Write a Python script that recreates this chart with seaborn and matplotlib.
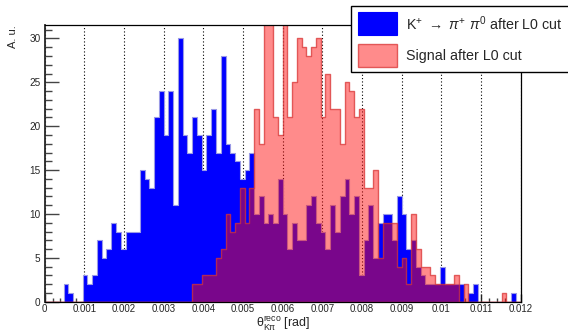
import numpy as np
import pandas as pd
import matplotlib
matplotlib.use("Agg")
import matplotlib.pyplot as plt
import seaborn as sns
from matplotlib.patches import Rectangle
from matplotlib.ticker import MultipleLocator, FuncFormatter

# 100 bins between 0 and 0.012 rad
n_bins = 100
x_min, x_max = 0.0, 0.012
y_max = 31.5

kpi_counts = [0, 0, 0, 0, 2, 1, 0, 0, 3, 2,
              3, 7, 5, 6, 9, 8, 6, 8, 8, 8,
              15, 14, 13, 21, 24, 19, 24, 11, 30, 19,
              17, 21, 19, 15, 19, 22, 17, 28, 18, 17,
              16, 14, 15, 17, 10, 12, 9, 10, 9, 14,
              10, 6, 9, 7, 7, 11, 12, 9, 8, 6,
              11, 8, 12, 14, 10, 12, 3, 7, 11, 5,
              9, 10, 10, 7, 12, 10, 6, 7, 4, 3,
              2, 2, 2, 4, 2, 2, 2, 2, 0, 1,
              2, 0, 0, 0, 0, 0, 0, 0, 1, 0]

signal_counts = [0, 0, 0, 0, 0, 0, 0, 0, 0, 0,
                 0, 0, 0, 0, 0, 0, 0, 0, 0, 0,
                 0, 0, 0, 0, 0, 0, 0, 0, 0, 0,
                 0, 2, 2, 3, 3, 3, 5, 6, 10, 8,
                 9, 13, 9, 13, 22, 18, 35, 34, 21, 19,
                 33, 21, 25, 30, 29, 28, 29, 30, 21, 26,
                 22, 22, 18, 25, 24, 21, 22, 13, 13, 15,
                 5, 9, 9, 9, 4, 5, 2, 10, 6, 4,
                 4, 3, 2, 2, 2, 2, 3, 0, 2, 0,
                 0, 0, 0, 0, 0, 0, 1, 0, 0, 0]

legend_labels = [r"K$^{+}$ $\rightarrow$ $\pi^{+}$ $\pi^{0}$ after L0 cut",
                 "Signal after L0 cut"]

edges = np.linspace(x_min, x_max, n_bins + 1)
centers = 0.5 * (edges[:-1] + edges[1:])
kpi_df = pd.DataFrame({"theta": centers, "w": kpi_counts})
sig_df = pd.DataFrame({"theta": centers, "w": signal_counts})

sns.set_style("ticks")
plt.rcParams["font.family"] = ["Liberation Sans", "DejaVu Sans"]
plt.rcParams["mathtext.fontset"] = "custom"
plt.rcParams["mathtext.rm"] = "Liberation Sans"
plt.rcParams["mathtext.it"] = "Liberation Sans:italic"
plt.rcParams["mathtext.bf"] = "Liberation Sans:bold"

fig = plt.figure(figsize=(5.68, 3.31), dpi=100)
ax = fig.add_axes([0.0785, 0.0885, 0.9167 - 0.0785, 0.9236 - 0.0885])

blue = (0, 0, 1)
red_face = (1, 0.05, 0.05, 0.48)
red_edge = (0.85, 0.2, 0.2, 0.75)

sns.histplot(data=kpi_df, x="theta", weights="w", bins=n_bins,
             binrange=(x_min, x_max), element="step", fill=True,
             color=blue, facecolor=blue, edgecolor="#9a9ae6",
             linewidth=0.8, ax=ax)
sns.histplot(data=sig_df, x="theta", weights="w", bins=n_bins,
             binrange=(x_min, x_max), element="step", fill=True,
             color="red", facecolor=red_face, edgecolor=red_edge,
             linewidth=1.0, ax=ax)

ax.set_xlim(x_min, x_max)
ax.set_ylim(0, y_max)

ax.xaxis.set_major_locator(MultipleLocator(0.001))
ax.xaxis.set_minor_locator(MultipleLocator(0.0002))
ax.xaxis.set_major_formatter(FuncFormatter(lambda v, p: f"{v:g}"))
ax.yaxis.set_major_locator(MultipleLocator(5))
ax.yaxis.set_minor_locator(MultipleLocator(1))

ax.set_axisbelow(True)
ax.grid(axis="x", which="major", color="black", linestyle=(0, (1, 2)), linewidth=0.8)

ax.tick_params(axis="y", which="major", direction="in", length=10, width=1,
               color="#444444", labelsize=7.2, pad=3)
ax.tick_params(axis="y", which="minor", direction="in", length=5, width=1, color="#444444")
ax.tick_params(axis="x", which="major", direction="in", length=6, width=1,
               color="#222222", labelsize=7, pad=2)
ax.tick_params(axis="x", which="minor", direction="in", length=3, width=1, color="#444444")

for side in ["top", "right", "bottom"]:
    ax.spines[side].set_linewidth(0.9)
    ax.spines[side].set_color("black")
ax.spines["left"].set_linewidth(1.3)

ax.set_xlabel(r"$\mathrm{\theta^{reco}_{K\pi}}$ [rad]", fontsize=9, va="baseline")
ax.xaxis.set_label_coords(0.5, -0.088)
ax.set_ylabel("A. u.", fontsize=8, loc="top")
ax.yaxis.set_label_coords(-0.055, 1.0)

# legend box (ROOT style, runs past the right edge)
W, H = 568.0, 331.0
def fx(px):
    return px / W
def fy(py):
    return 1 - py / H

fig.patches.append(Rectangle((fx(351), fy(71.5)), fx(240), 65 / H,
                             transform=fig.transFigure, facecolor="white",
                             edgecolor="black", linewidth=1.0, zorder=5))
fig.patches.append(Rectangle((fx(358), fy(35)), fx(39), 23 / H,
                             transform=fig.transFigure, facecolor=blue,
                             edgecolor=blue, linewidth=0.8, zorder=6))
fig.patches.append(Rectangle((fx(358), fy(67)), fx(39), 23 / H,
                             transform=fig.transFigure, facecolor=red_face,
                             edgecolor=red_edge, linewidth=1.0, zorder=6))
fig.text(fx(406), fy(24), legend_labels[0], fontsize=10.3, va="center", ha="left", zorder=7)
fig.text(fx(406), fy(56), legend_labels[1], fontsize=10.3, va="center", ha="left", zorder=7)

fig.savefig("out.png", dpi=100)
